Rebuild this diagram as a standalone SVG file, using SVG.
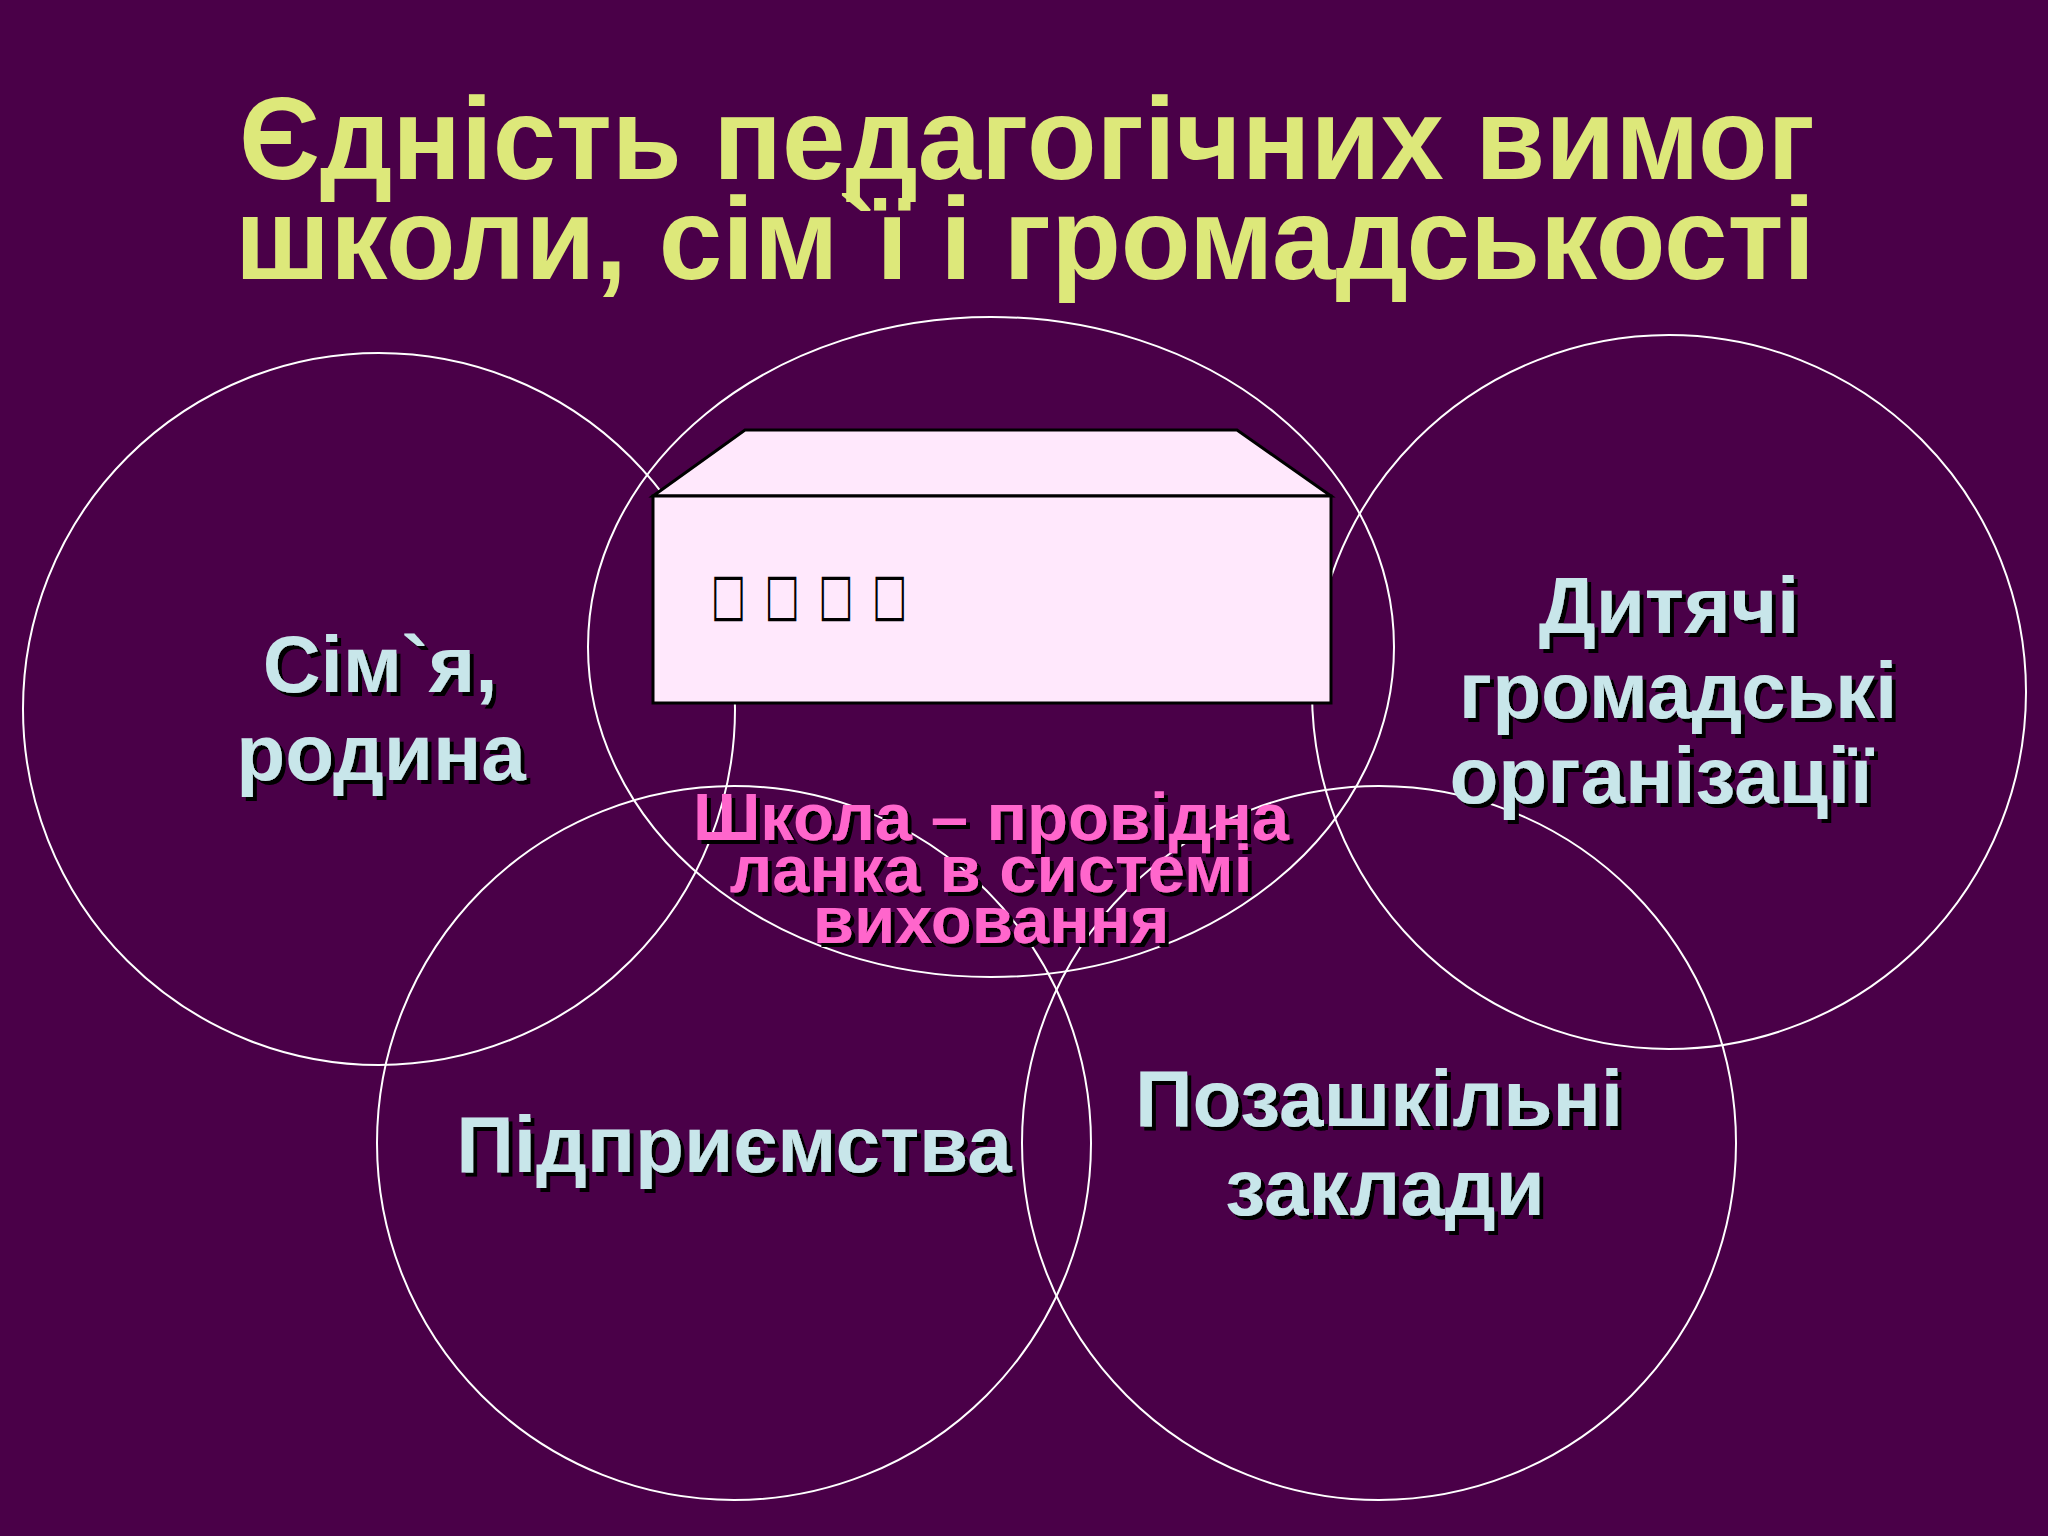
<svg xmlns="http://www.w3.org/2000/svg" width="2048" height="1536" viewBox="0 0 2048 1536">
  <defs>
    <filter id="shadow" x="-10%" y="-10%" width="120%" height="130%">
      <feFlood flood-color="#000000" result="c"/>
      <feComposite in="c" in2="SourceAlpha" operator="in" result="s"/>
      <feOffset in="s" dx="4" dy="4" result="o"/>
      <feMerge><feMergeNode in="o"/><feMergeNode in="SourceGraphic"/></feMerge>
    </filter>
  </defs>
  <style>
    .title { font-family: "Liberation Sans", Arial, sans-serif; font-weight: bold; font-size: 116px; fill: #DDE87A; text-anchor: middle; }
    .ring { fill: none; stroke: #FFFFFF; stroke-width: 2; }
    .label { font-family: "Liberation Sans", Arial, sans-serif; font-weight: bold; font-size: 80px; fill: #C8E6EA; text-anchor: middle; filter: url(#shadow); }
    .pink { font-family: "Liberation Sans", Arial, sans-serif; font-weight: bold; font-size: 67px; fill: #FF66CC; text-anchor: middle; filter: url(#shadow); }
    .box { fill: #FFE8FC; stroke: #000000; stroke-width: 3; stroke-linejoin: miter; }
    .tofu { font-family: "DejaVu Sans", sans-serif; font-size: 58px; fill: #000000; }
  </style>
  <rect x="0" y="0" width="2048" height="1536" fill="#4A0048"/>

  <g id="title">
    <text class="title" x="1027" y="179" textLength="1576" lengthAdjust="spacingAndGlyphs">Єдність педагогічних вимог</text>
    <text class="title" x="1025" y="279" textLength="1580" lengthAdjust="spacingAndGlyphs">школи, сім`ї і громадськості</text>
  </g>

  <g id="connectors">
    <circle id="ring-family" class="ring" cx="379" cy="709" r="356"/>
    <ellipse id="ring-school" class="ring" cx="991" cy="647" rx="403" ry="330"/>
    <circle id="ring-orgs" class="ring" cx="1669" cy="692" r="357"/>
    <circle id="ring-enterprises" class="ring" cx="734" cy="1143" r="357"/>
    <circle id="ring-outschool" class="ring" cx="1379" cy="1143" r="357"/>
  </g>

  <g id="node-family">
    <text class="label" x="380" y="692">Сім`я,</text>
    <text class="label" x="381" y="780">родина</text>
  </g>

  <g id="node-school-box">
    <polygon class="box" points="653,496 745,430 1237,430 1331,496"/>
    <rect class="box" x="653" y="496" width="678" height="207"/>
    <text class="tofu" transform="translate(711,614) scale(0.64,1)"><tspan x="0">□</tspan><tspan x="84">□</tspan><tspan x="168">□</tspan><tspan x="252">□</tspan></text>
  </g>

  <g id="node-school">
    <text class="pink" x="991" y="840">Школа – провідна</text>
    <text class="pink" x="991" y="892">ланка в системі</text>
    <text class="pink" x="991" y="943">виховання</text>
  </g>

  <g id="node-orgs">
    <text class="label" x="1669" y="633">Дитячі</text>
    <text class="label" x="1678" y="718">громадські</text>
    <text class="label" x="1661" y="803">організації</text>
  </g>

  <g id="node-enterprises">
    <text class="label" x="734" y="1172">Підприємства</text>
  </g>

  <g id="node-outschool">
    <text class="label" x="1379" y="1126">Позашкільні</text>
    <text class="label" x="1385" y="1215">заклади</text>
  </g>
</svg>
